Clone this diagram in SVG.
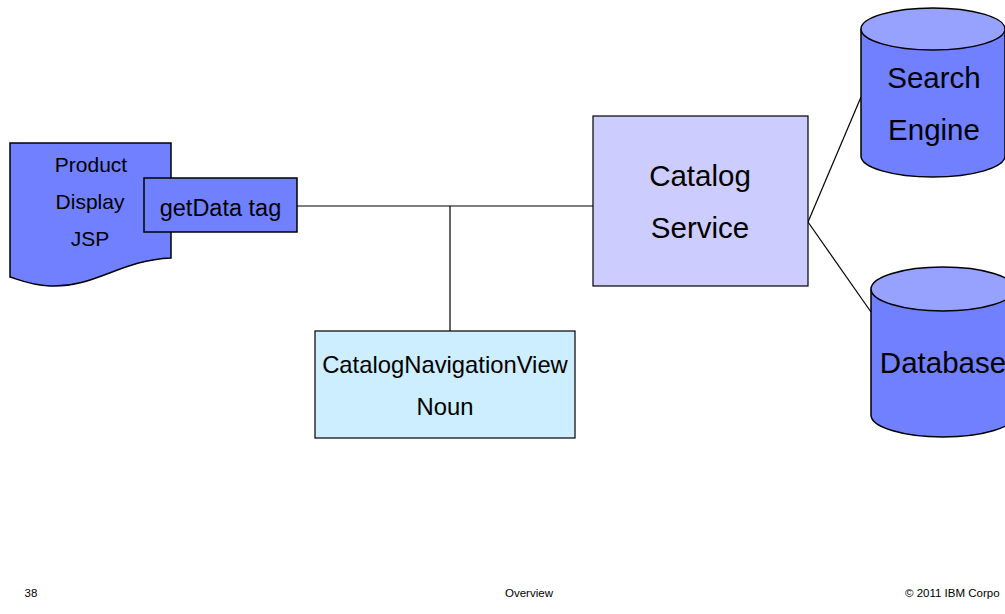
<svg xmlns="http://www.w3.org/2000/svg" width="1005" height="614" viewBox="0 0 1005 614">
<style>
text{font-family:"Liberation Sans",Arial,sans-serif;fill:#000;text-anchor:middle}
.blue{fill:#7080ff;stroke:#000;stroke-width:1.5}
.top{fill:#97a2ff;stroke:#000;stroke-width:1.5}
.conn{stroke:#000;stroke-width:1.2;fill:none}
.foot{font-size:11.5px}
.big{font-size:29.5px}
</style>
<rect width="1005" height="614" fill="#fff"/>
<g id="connectors">
<line class="conn" x1="297" y1="206" x2="593" y2="206"/>
<line class="conn" x1="450" y1="206" x2="450" y2="331"/>
<line class="conn" x1="808" y1="222" x2="861" y2="97"/>
<line class="conn" x1="808" y1="222" x2="871" y2="312"/>
</g>
<g id="jsp">
<path class="blue" d="M10,143 H171 V258 C120,260 95,288 50,286 C30,285 20,280 10,277 Z"/>
<text x="91" y="172" font-size="21">Product</text>
<text x="90" y="209" font-size="21">Display</text>
<text x="90" y="246" font-size="21">JSP</text>
</g>
<g id="getdata">
<rect class="blue" x="144" y="178" width="153" height="54"/>
<text x="220.5" y="215.5" font-size="23.5">getData tag</text>
</g>
<g id="catalogservice">
<rect x="593" y="116" width="215" height="170" fill="#ccccff" stroke="#000" stroke-width="1.2"/>
<text class="big" x="700" y="186">Catalog</text>
<text class="big" x="700" y="238">Service</text>
</g>
<g id="noun">
<rect x="315" y="331" width="260" height="107" fill="#cceeff" stroke="#000" stroke-width="1.2"/>
<text x="445" y="373" font-size="23.8">CatalogNavigationView</text>
<text x="445" y="415" font-size="23.8">Noun</text>
</g>
<g id="searchengine">
<path class="blue" d="M861,29 V156 A72,21 0 0 0 1005,156 V29"/>
<ellipse class="top" cx="933" cy="29" rx="72" ry="21"/>
<text class="big" x="934" y="88">Search</text>
<text class="big" x="934" y="140">Engine</text>
</g>
<g id="database">
<path class="blue" d="M871,289 V415 A72,22 0 0 0 1015,415 V289"/>
<ellipse class="top" cx="943" cy="289" rx="72" ry="22"/>
<text class="big" x="943" y="373">Database</text>
</g>
<g id="footer">
<text class="foot" x="31" y="597">38</text>
<text class="foot" x="529" y="597">Overview</text>
<text class="foot" x="905" y="597" style="text-anchor:start">© 2011 IBM Corpo</text>
</g>
</svg>
